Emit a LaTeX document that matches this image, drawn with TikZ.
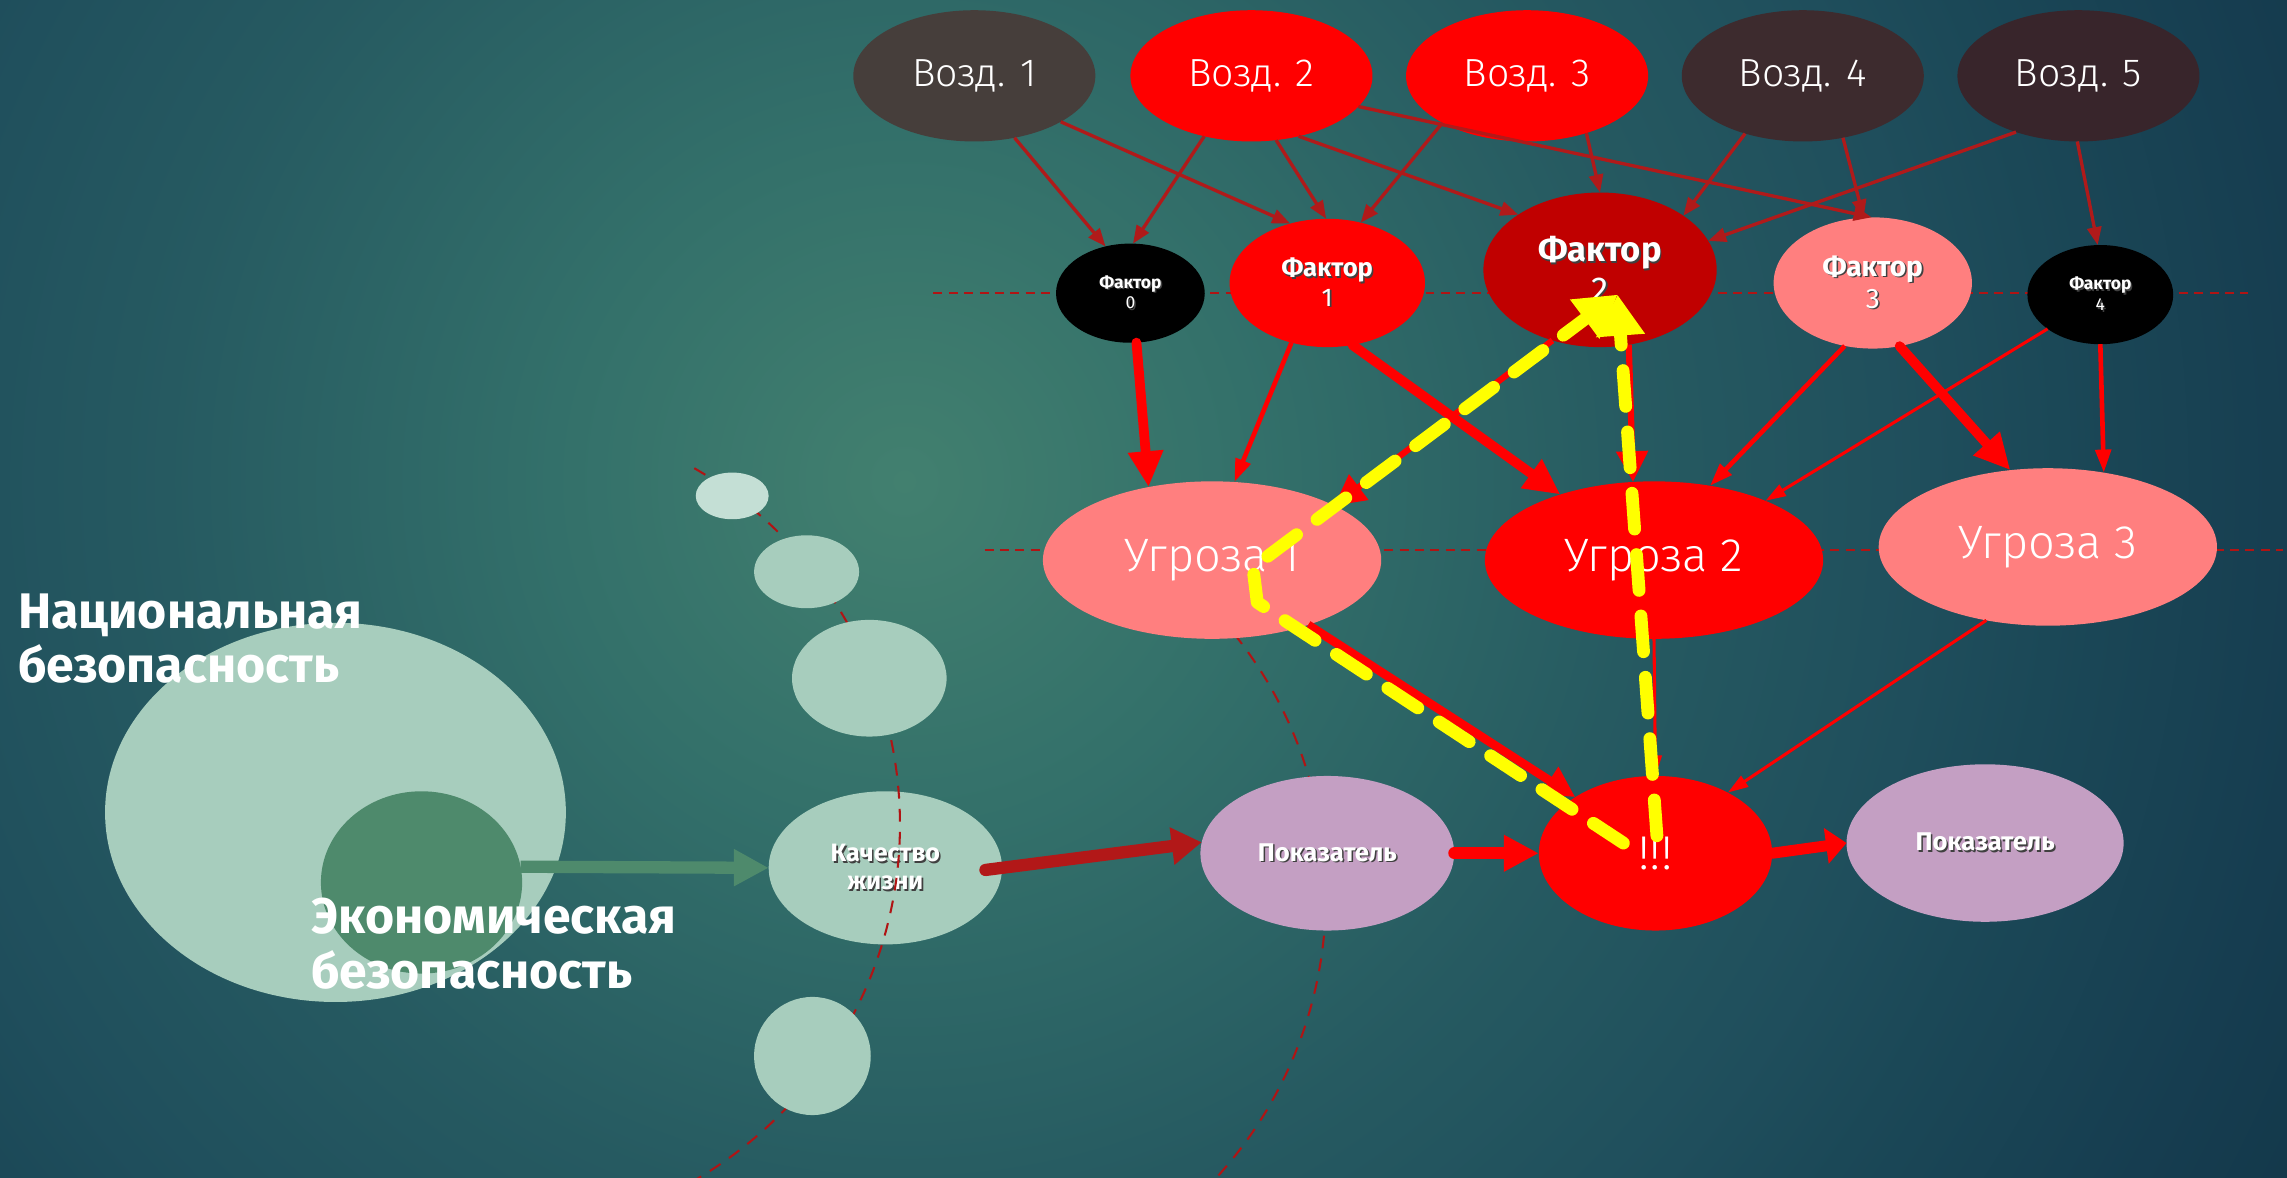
\documentclass[tikz,border=0pt]{standalone}
\usepackage{fontspec}
\setmainfont{Fira Sans}
\IfFontExistsTF{Fira Sans Light}
  {\newfontfamily\thinfont{Fira Sans Light}}
  {\newfontfamily\thinfont{Fira Sans}}
\usetikzlibrary{arrows.meta,shapes.geometric}

% slide background
\definecolor{glow0}{HTML}{42806F}
\definecolor{glow1}{HTML}{33706A}
\definecolor{glow2}{HTML}{265A61}
\definecolor{glow3}{HTML}{1F4E5C}
\definecolor{glow4}{HTML}{1B4857}
\definecolor{glow5}{HTML}{163D50}
\definecolor{glow6}{HTML}{13384A}
\pgfdeclareradialshading{slideglow}{\pgfpointorigin}{%
  color(0bp)=(glow0); color(5.5bp)=(glow1); color(11.5bp)=(glow2);
  color(16bp)=(glow3); color(18bp)=(glow4); color(22bp)=(glow5);
  color(24.5bp)=(glow6); color(40bp)=(glow6)}

% shapes and lines
\definecolor{vozdA}{HTML}{463E3B}
\definecolor{vozdB}{HTML}{3D2B2E}
\definecolor{vozdC}{HTML}{38252B}
\definecolor{hotred}{HTML}{FF0000}
\definecolor{deepred}{HTML}{C00000}
\definecolor{pinkred}{HTML}{FF7F7F}
\definecolor{mint}{HTML}{A7CDBD}
\definecolor{mintlight}{HTML}{C4DFD5}
\definecolor{econgreen}{HTML}{4E8A6C}
\definecolor{lilac}{HTML}{C49FC3}
\definecolor{wire}{HTML}{B01A1A}
\definecolor{guidered}{HTML}{B01414}
\definecolor{brickred}{HTML}{B21818}
\definecolor{markyellow}{HTML}{FFFF00}

\newcommand\shadowed[1]{\leavevmode\rlap{\kern0.6pt\raisebox{-0.6pt}{\textcolor{black!75}{#1}}}#1}
\newcommand\fsz[2]{\fontsize{#1}{#2}\selectfont}

\begin{document}
\begin{tikzpicture}[x=0.02cm, y=-0.02cm,
  blob/.style={ellipse, inner sep=0pt, outer sep=0pt, text=white, align=center},
  caption/.style={inner sep=0pt, text=white, anchor=base west, font=\bfseries\fsz{19.5}{23}},
  guide/.style={draw=guidered, line width=0.9pt, dash pattern=on 3.5pt off 2.5pt},
  guide arc/.style={draw=guidered, line width=0.8pt, dash pattern=on 5pt off 4pt},
  link/.style={draw=wire, line width=1.3pt, -{Triangle[length=7pt,width=5.5pt]}},
  heavy/.style={draw=hotred, line width=3.8pt, line cap=round, -{Triangle[length=14pt,width=13pt]}},
  medium/.style={draw=hotred, line width=2.4pt, -{Triangle[length=12pt,width=12pt]}},
  light/.style={draw=hotred, line width=1.8pt, -{Triangle[length=9pt,width=6pt]}},
  hair/.style={draw=hotred, line width=1.2pt, -{Triangle[length=8pt,width=5pt]}},
  flow/.style={line width=4.8pt, line cap=round},
  highlight/.style={draw=markyellow, line width=5pt, line cap=round, line join=round,
    dash pattern=on 14pt off 10pt, -{Triangle[length=16pt,width=18pt]}}
]
\useasboundingbox (0,0) rectangle (1568,807);

\begin{scope}
  \clip (0,0) rectangle (1568,807);
  \shade[shading=slideglow] (-480,-770) rectangle (1720,1430);

  % level guides
  \draw[guide] (640,201) -- (1541,201);
  \draw[guide] (675,377) -- (1565,377);

  \node[blob, fill=mint, minimum width=3.2cm, minimum height=2.1cm,
        font=\bfseries\fsz{9.8}{11}] (q) at (607,595)
        {\shadowed{Качество}\\\shadowed{жизни}};

  % orbit arcs
  \draw[guide arc] (476,321) arc[start angle=60, end angle=-60, radius=5.64cm];
  \draw[guide arc] (825,411) arc[start angle=45, end angle=-45, radius=5.74cm];
\end{scope}

% security circles
\node[blob, fill=mint, minimum width=6.32cm, minimum height=5.2cm] (nat) at (230,557) {};
\node[blob, fill=econgreen, minimum width=2.76cm, minimum height=2.5cm] (eco) at (289,605) {};
\node[blob, fill=mintlight, minimum width=1.0cm, minimum height=0.64cm] (c1) at (502,340) {};
\node[blob, fill=mint, minimum width=1.44cm, minimum height=1.0cm] (c2) at (553,392) {};
\node[blob, fill=mint, minimum width=2.12cm, minimum height=1.6cm] (c3) at (596,465) {};
\node[blob, fill=mint, minimum width=1.6cm, minimum height=1.62cm] (c5) at (557,724) {};

\node[caption] (natA) at (12,431) {Национальная};
\node[caption] (natB) at (12,468) {безопасность};

% influences
\node[blob, fill=vozdA, minimum width=3.32cm, minimum height=1.8cm, font=\thinfont\fsz{15.3}{18}] (v1) at (668,52) {Возд. 1};
\node[blob, fill=hotred, minimum width=3.32cm, minimum height=1.8cm, font=\thinfont\fsz{15.3}{18}] (v2) at (858,52) {Возд. 2};
\node[blob, fill=hotred, minimum width=3.32cm, minimum height=1.8cm, font=\thinfont\fsz{15.3}{18}] (v3) at (1047,52) {Возд. 3};
\node[blob, fill=vozdB, minimum width=3.32cm, minimum height=1.8cm, font=\thinfont\fsz{15.3}{18}] (v4) at (1236,52) {Возд. 4};
\node[blob, fill=vozdC, minimum width=3.32cm, minimum height=1.8cm, font=\thinfont\fsz{15.3}{18}] (v5) at (1425,52) {Возд. 5};

% factors
\node[blob, fill=black, minimum width=2.04cm, minimum height=1.36cm, font=\bfseries\fsz{6.8}{8}] (f0) at (775,201)
  {\shadowed{Фактор}\\\mdseries\shadowed{0}};
\node[blob, fill=hotred, minimum width=2.68cm, minimum height=1.76cm, font=\bfseries\fsz{10}{11.4}] (f1) at (910,194)
  {\shadowed{Фактор}\\\mdseries\shadowed{1}};
\node[blob, fill=deepred, minimum width=3.2cm, minimum height=2.12cm, font=\bfseries\fsz{13.5}{15.4}] (f2) at (1097,185)
  {\shadowed{Фактор}\\\mdseries\shadowed{2}};
\node[blob, fill=pinkred, minimum width=2.72cm, minimum height=1.8cm, font=\bfseries\fsz{11}{12.5}] (f3) at (1284,194)
  {\shadowed{Фактор}\\\mdseries\shadowed{3}};
\node[blob, fill=black, minimum width=2.0cm, minimum height=1.36cm, font=\bfseries\fsz{6.8}{8}] (f4) at (1440,202)
  {\shadowed{Фактор}\\\mdseries\shadowed{4}};

% threats
\node[blob, fill=pinkred, minimum width=4.64cm, minimum height=2.16cm, font=\thinfont\fsz{18.3}{21}] (u1) at (831,384) {Угроза 1};
\node[blob, fill=hotred, minimum width=4.64cm, minimum height=2.16cm, font=\thinfont\fsz{18.3}{21}] (u2) at (1134,384) {Угроза 2};
\node[blob, fill=pinkred, minimum width=4.64cm, minimum height=2.16cm, font=\thinfont\fsz{18.3}{21}] (u3) at (1404,375) {Угроза 3};

% indicators
\node[blob, fill=lilac, minimum width=3.48cm, minimum height=2.12cm, font=\bfseries\fsz{10}{12}] (p1) at (910,585) {\shadowed{Показатель}};
\node[blob, fill=hotred, minimum width=3.2cm, minimum height=2.12cm, font=\thinfont\fsz{18.5}{20}] (ex) at (1135,585) {!!!};
\node[blob, fill=lilac, minimum width=3.8cm, minimum height=2.16cm, font=\bfseries\fsz{10}{12}] (p2) at (1361,578) {\shadowed{Показатель}};

% influences -> factors
\draw[link] (v1.-57) -- (f0.118);
\draw[link] (v1.-28) -- (f1.122);
\draw[link] (v2.-128) -- (f0.87);
\draw[link] (v2.-69) -- (f1.91);
\draw[link] (v2.-52) -- (f2.146);
\draw[link] (v2.-16) -- (f3.91);
\draw[link] (v3.-151) -- (f1.61);
\draw[link] (v3.-44) -- (f2.90);
\draw[link] (v4.-135) -- (f2.33);
\draw[link] (v4.-57) -- (f3.98);
\draw[link] (v5.-138) -- (f2.15);
\draw[link] (v5.-91) -- (f4.93);

% factors -> threats
\draw[heavy] (f0.-83) -- (u1.131);
\draw[light] (f1.-121) -- (u1.74);
\draw[heavy] (f1.-68) -- (u2.145);
\draw[medium] (f2.-124) -- (u1.24);
\draw[medium] (f2.-69) -- (u2.105);
\draw[light] (f3.-114) -- (u2.53);
\draw[heavy] (f3.-67) -- (u3.116);
\draw[hair] (f4.-147) -- (u2.28);
\draw[light] (f4.-90) -- (u3.53);

% threats -> alarm
\draw[medium, line width=3.4pt] (u1.-34) -- (ex.145);
\draw[hair] (u2.-90) -- (ex.90);
\draw[hair] (u3.-130) -- (ex.40);

% chain of indicators
\draw[flow, econgreen, line cap=butt, -{Triangle[length=13.6pt,width=13.6pt]}] (eco.9) -- (q.west);
\draw[flow, brickred, shorten <=-6.5pt, -{Triangle[length=11.7pt,width=14pt]}] (q.east) -- (p1.175);
\draw[flow, hotred, line width=4.6pt, -{Triangle[length=13.6pt,width=13.4pt]}] (p1.east) -- (ex.west);
\draw[flow, hotred, line width=4.3pt, -{Triangle[length=8pt,width=13.6pt]}] (ex.east) -- (p2.west);

\node[caption] (ecoA) at (213,640) {Экономическая};
\node[caption] (ecoB) at (213,678) {безопасность};

% highlighted feedback paths
\coordinate (ya) at (1113,578);
\coordinate (yb) at (862,413);
\coordinate (yc) at (859,389);
\coordinate (yd) at (1136,573);
\coordinate (ytip) at (1109,202);
\draw[highlight] (ya) -- (yb) -- (yc) -- (ytip);
\draw[highlight] (yd) -- (ytip);
\end{tikzpicture}
\end{document}
